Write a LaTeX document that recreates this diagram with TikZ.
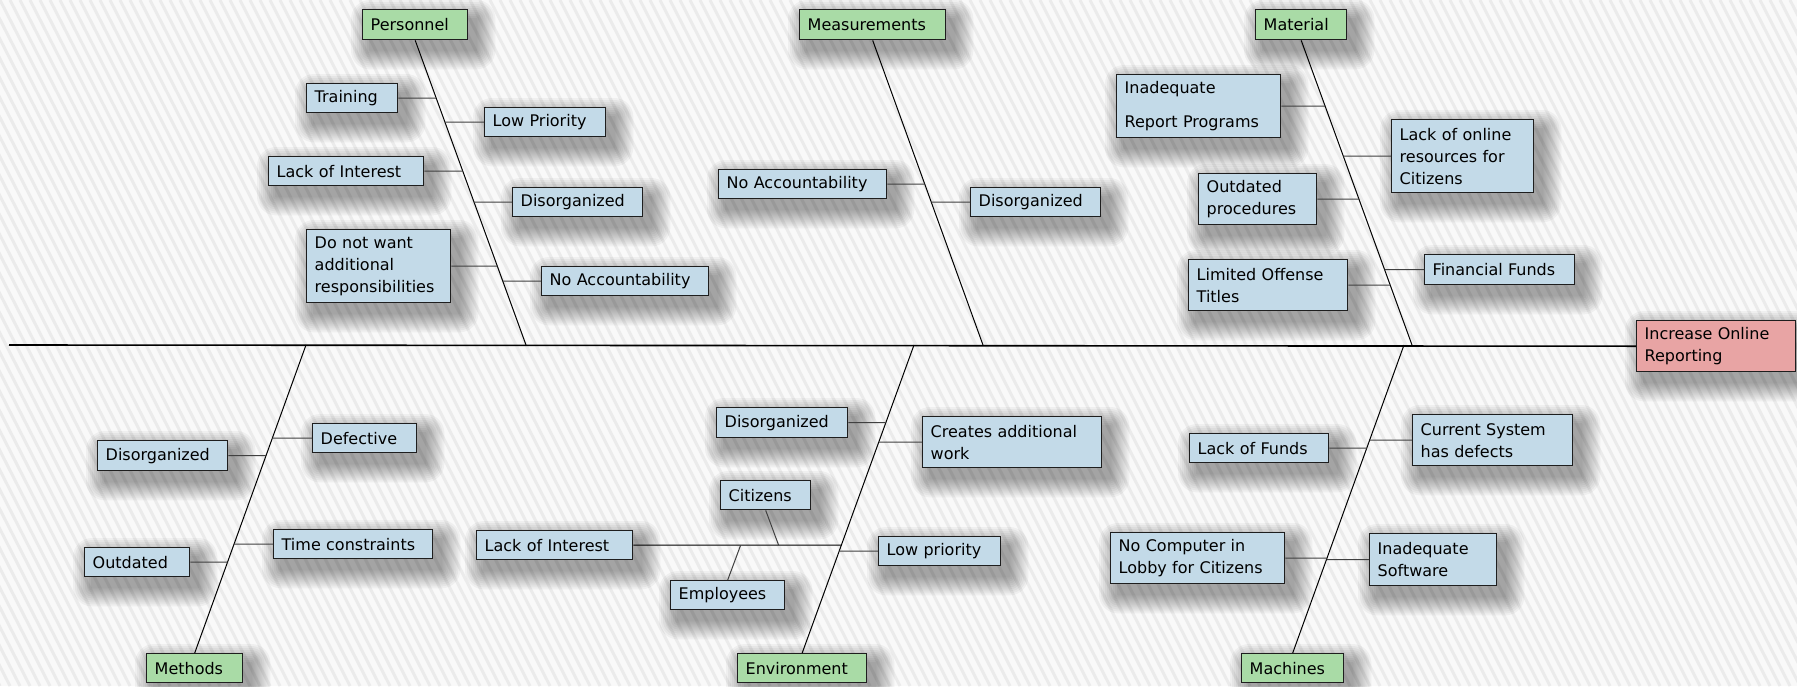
\documentclass[tikz,border=0pt]{standalone}
\usepackage{fontspec}
\setmainfont{DejaVu Sans}
\usetikzlibrary{calc}

\definecolor{catgreen}{HTML}{A9DBA6}
\definecolor{causeblue}{HTML}{C3DAE8}
\definecolor{effectred}{HTML}{E8A4A4}
\definecolor{boxline}{HTML}{1E1E1E}
\definecolor{paper}{HTML}{F9F9F9}
\definecolor{stripe}{HTML}{EBEBEB}

\pgfdeclarelayer{paperlayer}
\pgfsetlayers{paperlayer,main}

% soft drop shadow: stacked translucent rounded rectangles below and right of a node
\newcommand\softshadow[1]{%
  \foreach \r in {1,3,...,19}
    \fill[black, opacity=0.04, rounded corners=\r pt]
      ($(#1.north west)+(8-\r,10-\r)$) rectangle ($(#1.south east)+(8+\r,10+\r)$);}

\begin{document}
\begin{tikzpicture}[x=1pt,y=-1pt,
  fbbox/.style={draw=boxline, line width=1.4pt, anchor=north west,
    inner xsep=8pt, inner ysep=0pt, align=left,
    font=\fontsize{16}{22}\selectfont},
  sz/.style 2 args={text width=#1, minimum height=#2},
  cat/.style={fbbox, fill=catgreen},
  cause/.style={fbbox, fill=causeblue},
  effect/.style={fbbox, fill=effectred},
  bone/.style={line width=1pt, black},
  twig/.style={line width=1pt, black!75},
  spine/.style={line width=1.6pt, black}
]
\useasboundingbox (0,0) rectangle (1797,686);

% striped paper
\begin{pgfonlayer}{paperlayer}
\fill[paper] (0,0) rectangle (1797,686);
\begin{scope}
  \clip (0,0) rectangle (1797,686);
  \foreach \s in {-360,-350,...,1800}
    \draw[stripe, line width=3pt] (\s,0) -- ++(350,686);
\end{scope}
\end{pgfonlayer}

% categories and effect
\node[cat, sz={89pt}{30pt}]  (pers) at (362,9)   {Personnel};
\node[cat, sz={130pt}{30pt}] (meas) at (799,9)   {Measurements};
\node[cat, sz={75pt}{30pt}]  (matl) at (1255,9)  {Material};
\node[cat, sz={80pt}{29pt}]  (meth) at (146,653) {Methods};
\node[cat, sz={113pt}{29pt}] (envr) at (737,653) {Environment};
\node[cat, sz={86pt}{29pt}]  (mach) at (1241,653){Machines};
\node[effect, sz={143pt}{51pt}] (eff) at (1636,320) {Increase Online\\Reporting};

% Personnel
\node[cause, sz={75pt}{29pt}]  (p1) at (306,83)  {Training};
\node[cause, sz={105pt}{29pt}] (p2) at (484,107) {Low Priority};
\node[cause, sz={139pt}{29pt}] (p3) at (268,156) {Lack of Interest};
\node[cause, sz={114pt}{29pt}] (p4) at (512,187) {Disorganized};
\node[cause, sz={128pt}{73pt}] (p5) at (306,229) {Do not want\\additional\\responsibilities};
\node[cause, sz={151pt}{29pt}] (p6) at (541,266) {No Accountability};

% Measurements
\node[cause, sz={152pt}{29pt}] (m1) at (718,169) {No Accountability};
\node[cause, sz={114pt}{29pt}] (m2) at (970,187) {Disorganized};

% Material
\node[cause, sz={148pt}{63pt}] (t1) at (1116,74)  {Inadequate\\[12pt]Report Programs};
\node[cause, sz={126pt}{73pt}] (t2) at (1391,119) {Lack of online\\resources for\\Citizens};
\node[cause, sz={102pt}{51pt}] (t3) at (1198,173) {Outdated\\procedures};
\node[cause, sz={134pt}{30pt}] (t4) at (1424,254) {Financial Funds};
\node[cause, sz={143pt}{51pt}] (t5) at (1188,259) {Limited Offense\\Titles};

% Methods
\node[cause, sz={88pt}{29pt}]  (d1) at (312,423) {Defective};
\node[cause, sz={114pt}{30pt}] (d2) at (97,440)  {Disorganized};
\node[cause, sz={143pt}{29pt}] (d3) at (273,529) {Time constraints};
\node[cause, sz={89pt}{29pt}]  (d4) at (84,547)  {Outdated};

% Environment
\node[cause, sz={115pt}{30pt}] (e1) at (716,407) {Disorganized};
\node[cause, sz={163pt}{51pt}] (e2) at (922,416) {Creates additional\\work};
\node[cause, sz={74pt}{29pt}]  (e3) at (720,480) {Citizens};
\node[cause, sz={140pt}{29pt}] (e4) at (476,530) {Lack of Interest};
\node[cause, sz={98pt}{29pt}]  (e5) at (670,580) {Employees};
\node[cause, sz={106pt}{29pt}] (e6) at (878,536) {Low priority};

% Machines
\node[cause, sz={123pt}{29pt}] (c1) at (1189,433) {Lack of Funds};
\node[cause, sz={144pt}{51pt}] (c2) at (1412,414) {Current System\\has defects};
\node[cause, sz={158pt}{51pt}] (c3) at (1110,532) {No Computer in\\Lobby for Citizens};
\node[cause, sz={111pt}{52pt}] (c4) at (1369,533) {Inadequate\\Software};

% shadows under every box
\begin{pgfonlayer}{paperlayer}
\foreach \n in {pers,meas,matl,meth,envr,mach,eff,
                p1,p2,p3,p4,p5,p6,m1,m2,t1,t2,t3,t4,t5,
                d1,d2,d3,d4,e1,e2,e3,e4,e5,e6,c1,c2,c3,c4}
  {\softshadow{\n}}
\end{pgfonlayer}

% spine and the points where the bones meet it
\coordinate (tail) at (9,345);
\coordinate (pb) at (526,345);
\coordinate (mb) at (983,345);
\coordinate (tb) at (1412,345);
\coordinate (db) at (306,345);
\coordinate (eb) at (914,345);
\coordinate (cb) at (1404,345);

\draw[spine] (tail) -- (eff.west);
\draw[bone] (pers.south) -- (pb);
\draw[bone] (meas.south) -- (mb);
\draw[bone] (matl.south) -- (tb);
\draw[bone] (meth.north) -- (db);
\draw[bone] (envr.north) -- (eb);
\draw[bone] (mach.north) -- (cb);

% Personnel twigs
\draw[twig] (p1.east) -- (intersection of p1.east--p1.west and pers.south--pb);
\draw[twig] (p2.west) -- (intersection of p2.west--p2.east and pers.south--pb);
\draw[twig] (p3.east) -- (intersection of p3.east--p3.west and pers.south--pb);
\draw[twig] (p4.west) -- (intersection of p4.west--p4.east and pers.south--pb);
\draw[twig] (p5.east) -- (intersection of p5.east--p5.west and pers.south--pb);
\draw[twig] (p6.west) -- (intersection of p6.west--p6.east and pers.south--pb);

% Measurements twigs
\draw[twig] (m1.east) -- (intersection of m1.east--m1.west and meas.south--mb);
\draw[twig] (m2.west) -- (intersection of m2.west--m2.east and meas.south--mb);

% Material twigs
\draw[twig] (t1.east) -- (intersection of t1.east--t1.west and matl.south--tb);
\draw[twig] (t2.west) -- (intersection of t2.west--t2.east and matl.south--tb);
\draw[twig] (t3.east) -- (intersection of t3.east--t3.west and matl.south--tb);
\draw[twig] (t4.west) -- (intersection of t4.west--t4.east and matl.south--tb);
\draw[twig] (t5.east) -- (intersection of t5.east--t5.west and matl.south--tb);

% Methods twigs
\draw[twig] (d1.west) -- (intersection of d1.west--d1.east and meth.north--db);
\draw[twig] (d2.east) -- (intersection of d2.east--d2.west and meth.north--db);
\draw[twig] (d3.west) -- (intersection of d3.west--d3.east and meth.north--db);
\draw[twig] (d4.east) -- (intersection of d4.east--d4.west and meth.north--db);

% Environment twigs, with the Lack of Interest sub-bone
\draw[twig] (e1.east) -- (intersection of e1.east--e1.west and envr.north--eb);
\draw[twig] (e2.west) -- (intersection of e2.west--e2.east and envr.north--eb);
\draw[twig] (e6.west) -- (intersection of e6.west--e6.east and envr.north--eb);
\draw[bone] (e4.east) -- (intersection of e4.east--e4.west and envr.north--eb);
\coordinate (e3d) at ($(e3.south)+(13,35)$);
\coordinate (e5d) at ($(e5.north)+(13,-35)$);
\draw[twig] (e3.south) -- (intersection of e3.south--e3d and e4.east--e4.west);
\draw[twig] (e5.north) -- (intersection of e5.north--e5d and e4.east--e4.west);

% Machines twigs
\draw[twig] (c1.east) -- (intersection of c1.east--c1.west and mach.north--cb);
\draw[twig] (c2.west) -- (intersection of c2.west--c2.east and mach.north--cb);
\draw[twig] (c3.east) -- (intersection of c3.east--c3.west and mach.north--cb);
\draw[twig] (c4.west) -- (intersection of c4.west--c4.east and mach.north--cb);
\end{tikzpicture}
\end{document}
